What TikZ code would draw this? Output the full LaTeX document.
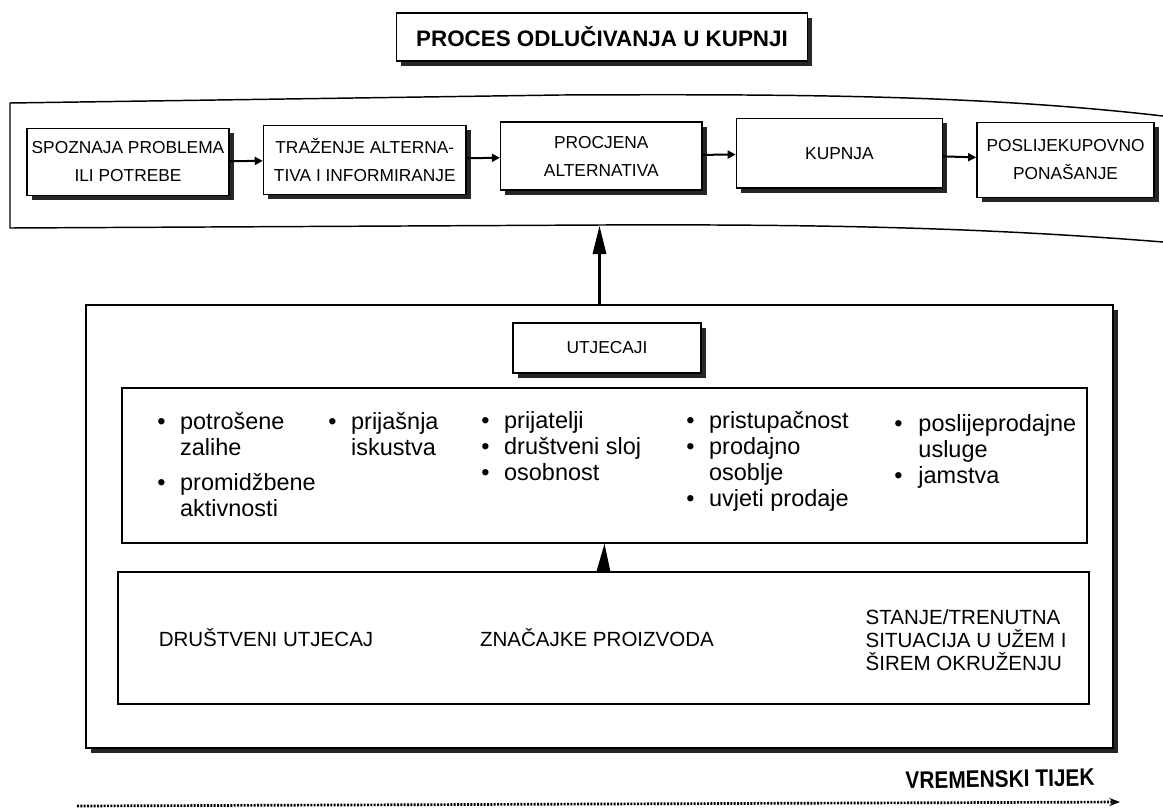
\documentclass[tikz,border=0pt]{standalone}
\usepackage{fontspec}
\setmainfont{Liberation Sans}
\usepackage{tikz}
\usetikzlibrary{arrows.meta, positioning, shadows}
\tikzset{
>={Triangle[length=6pt,width=6pt]}, % small filled heads between the steps
frame/.style={draw, line width=1.1pt}, % plain outline
shadebox/.style={frame, fill=white, drop shadow={shadow xshift=3.5pt, shadow yshift=-3.5pt, fill=black!85, opacity=1}}, % box with dark shadow
stepbox/.style={shadebox, align=center, font=\fontsize{13}{21}\selectfont, inner sep=2pt},
titlebox/.style={shadebox, font=\bfseries\fontsize{16.8}{20}\selectfont, minimum width=308pt, minimum height=36pt},
bigarrow/.style={line width=1.6pt, -{Triangle[length=21pt,width=10pt]}},
steparrow/.style={line width=1.5pt, ->},
factorlist/.style={anchor=base west, inner sep=0pt, font=\fontsize{17.6}{19.5}\selectfont},
source/.style={font=\fontsize{15.4}{17}\selectfont, align=left},
timeline/.style={line width=2pt, dash pattern=on 1.5pt off 1pt, -{Stealth[length=8pt,width=6pt]}},
}

\begin{document}
\begin{tikzpicture}[x=0.75pt, y=-0.75pt, node distance=24.75pt]%pixel grid of the scan
  \useasboundingbox (0,0) rectangle (1163,811);
  \node[titlebox] (title) at (602,37) {PROCES ODLUČIVANJA U KUPNJI};

  % band round the steps
  \draw[frame] (1163,116) .. controls (980,95) and (800,94) .. (560,95) -- (10,103) -- (10,228)
    -- (600,225) .. controls (850,224) and (1000,229) .. (1163,242);

  \node[stepbox, minimum width=151.5pt, minimum height=50pt] (s1) at (128,162) {SPOZNAJA PROBLEMA\\ILI POTREBE};
  \node[stepbox, minimum width=152pt, minimum height=52pt, right=of s1, yshift=1.5pt] (s2) {TRAŽENJE ALTERNA-\\TIVA I INFORMIRANJE};
  \node[stepbox, minimum width=151pt, minimum height=51pt, right=of s2, yshift=3pt] (s3) {PROCJENA\\ALTERNATIVA};
  \node[stepbox, minimum width=154.5pt, minimum height=52pt, right=of s3, yshift=2pt] (s4) {KUPNJA};
  \node[stepbox, minimum width=133pt, minimum height=56pt, right=of s4, yshift=-5pt] (s5) {POSLIJEKUPOVNO\\PONAŠANJE};

  \path[steparrow]
  (s1) edge (s2)
  (s2) edge (s3)
  (s3) edge (s4)
  (s4) edge (s5);

  % influences
  \node[shadebox, minimum width=770pt, minimum height=332pt] (influences) at (599.5,526.5) {};
  \coordinate (bandtip) at (599.5,226);
  \draw[bigarrow] (influences.north) -- (bandtip);

  \node[stepbox, minimum width=141pt, minimum height=37.5pt] (utj) at (607,348) {UTJECAJI};
  \node[frame, minimum width=724pt, minimum height=116pt] (factorbox) at (604.5,465.5) {};
  \node[frame, minimum width=728pt, minimum height=99pt] (sourcebox) at (603.5,638) {};
  \draw[bigarrow] (sourcebox.north) -- (factorbox.south);

  \node[factorlist] (c1) at (157,429) {\begin{tabular}[t]{@{}l@{\hspace{11pt}}l@{}}
    \textbullet & potrošene\\ & zalihe\\[7pt] \textbullet & promidžbene\\ & aktivnosti\end{tabular}};
  \node[factorlist] (c2) at (328,429) {\begin{tabular}[t]{@{}l@{\hspace{11pt}}l@{}}
    \textbullet & prijašnja\\ & iskustva\end{tabular}};
  \node[factorlist] (c3) at (481,428) {\begin{tabular}[t]{@{}l@{\hspace{11pt}}l@{}}
    \textbullet & prijatelji\\ \textbullet & društveni sloj\\ \textbullet & osobnost\end{tabular}};
  \node[factorlist] (c4) at (686,428) {\begin{tabular}[t]{@{}l@{\hspace{11pt}}l@{}}
    \textbullet & pristupačnost\\ \textbullet & prodajno\\ & osoblje\\ \textbullet & uvjeti prodaje\end{tabular}};
  \node[factorlist] (c5) at (894,431) {\begin{tabular}[t]{@{}l@{\hspace{12pt}}l@{}}
    \textbullet & poslijeprodajne\\ & usluge\\ \textbullet & jamstva\end{tabular}};

  \node[source] (social) at (266,638) {DRUŠTVENI UTJECAJ};
  \node[source] (product) at (597,638) {ZNAČAJKE PROIZVODA};
  \node[source, anchor=west] (situation) at (861,640) {STANJE/TRENUTNA\\SITUACIJA U UŽEM I\\ŠIREM OKRUŽENJU};

  % time axis
  \coordinate (tstart) at (77,806);
  \coordinate (tend) at (1120,802);
  \draw[timeline] (tstart) -- (tend);
  \node[font=\bfseries\fontsize{18}{20}\selectfont, rotate=1] (timelabel) at (1000,779) {\scalebox{0.87}[1]{VREMENSKI TIJEK}};
\end{tikzpicture}
\end{document}
